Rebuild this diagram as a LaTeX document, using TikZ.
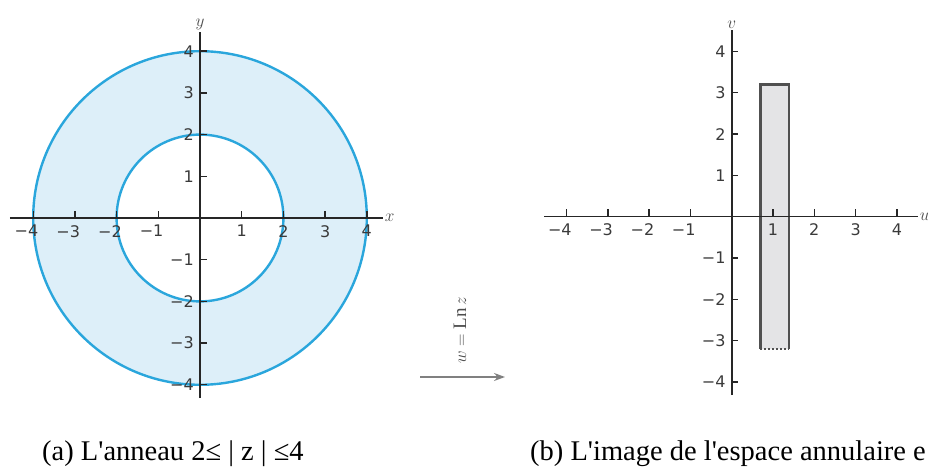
\documentclass[tikz,border=0pt]{standalone}
\usepackage{fontspec}
\setmainfont{Liberation Serif}
\newfontfamily\capfont{Liberation Serif}[Ligatures=ResetAll]
\newfontfamily\ticksf{DejaVu Sans}
\usetikzlibrary{arrows.meta,positioning,calc}
\usepackage{xcolor}

\definecolor{ringblue}{HTML}{2AA6DC}
\definecolor{ringfill}{HTML}{DDEFF9}
\definecolor{stripfill}{HTML}{E4E4E6}
\definecolor{stripline}{HTML}{505050}
\definecolor{numgray}{HTML}{3A3A3A}

\tikzset{
    axisline/.style={line width=1.6pt, black!85},
    tickmark/.style={line width=1.4pt, black!85},
    ticknum/.style={inner sep=0pt, text=numgray, font=\ticksf\fontsize{16}{18}\selectfont},
    axislabel/.style={inner sep=1pt, text=black!70, font=\fontsize{19}{21}\selectfont},
    caption/.style={inner sep=0pt, anchor=base west, font=\capfont\fontsize{28.5}{30}\selectfont}
}

\begin{document}
\begin{tikzpicture}[x=1pt,y=1pt]
    \useasboundingbox (0,0) rectangle (928,468);

    % Plan z : l'anneau
    \begin{scope}[shift={(200,250)}, x=41.7pt, y=41.7pt]
        \fill[ringfill, even odd rule] (0,0) circle (4) (0,0) circle (2);
        \draw[ringblue, line width=2.4pt] (0,0) circle (4);
        \draw[ringblue, line width=2.4pt] (0,0) circle (2);

        % Axes
        \draw[axisline] (-4.56,0) -- (4.39,0) node[axislabel, right] (xlab) {$x$};
        \draw[axisline] (0,-4.32) -- (0,4.46) node[axislabel, above] (ylab) {$y$};

        \foreach \t in {1,...,4} {
            \draw[tickmark] (\t,0) -- ++(0,7pt);
            \draw[tickmark] (-\t,0) -- ++(0,7pt);
            \draw[tickmark] (0,\t) -- ++(7pt,0);
            \draw[tickmark] (0,-\t) -- ++(7pt,0);
            \node[ticknum, anchor=north] (zxp\t) at ($(\t,0)+(0,-7pt)$) {\t};
            \node[ticknum, anchor=north] (zxn\t) at ($(-\t,0)+(0,-7pt)$) {\makebox[0pt][r]{−}\t};
            \node[ticknum, anchor=east] (zyp\t) at ($(0,\t)+(-6pt,0)$) {\t};
            \node[ticknum, anchor=east] (zyn\t) at ($(0,-\t)+(-6pt,0)$) {−\t};
        }
    \end{scope}

    % Transformation
    \coordinate (mapL) at (420,91);
    \coordinate (mapR) at (505,91);
    \draw[gray, line width=1.4pt, -{Stealth[length=11pt,width=8pt]}] (mapL) -- (mapR);
    \node[rotate=90, text=black!70, font=\fontsize{19}{21}\selectfont] (maplab) at (460,138) {$w = \mathrm{Ln}\, z$};

    % Plan w : la bande
    \begin{scope}[shift={(731.7,251.3)}, x=41.3pt, y=41.3pt]
        \fill[stripfill] (0.693,-3.2) rectangle (1.386,3.2);
        \draw[stripline, line width=2.6pt] (0.693,-3.2) -- (0.693,3.2) -- (1.386,3.2) -- (1.386,-3.2);
        \draw[stripline, line width=2pt, dotted] (0.693,-3.2) -- (1.386,-3.2);

        % Axes
        \draw[axisline] (-4.54,0) -- (4.51,0) node[axislabel, right] (ulab) {$u$};
        \draw[axisline] (0,-4.32) -- (0,4.52) node[axislabel, above] (vlab) {$v$};

        \foreach \t in {1,...,4} {
            \draw[tickmark] (\t,0) -- ++(0,8pt);
            \draw[tickmark] (-\t,0) -- ++(0,8pt);
            \draw[tickmark] (0,\t) -- ++(6pt,0);
            \draw[tickmark] (0,-\t) -- ++(6pt,0);
            \node[ticknum, anchor=north] (wxp\t) at ($(\t,0)+(0,-7pt)$) {\t};
            \node[ticknum, anchor=north] (wxn\t) at ($(-\t,0)+(0,-7pt)$) {\makebox[0pt][r]{−}\t};
            \node[ticknum, anchor=east] (wyp\t) at ($(0,\t)+(-6pt,0)$) {\t};
            \node[ticknum, anchor=east] (wyn\t) at ($(0,-\t)+(-6pt,0)$) {−\t};
        }
    \end{scope}

    % Legendes
    \node[caption] (capa) at (42,7) {(a) L'anneau 2≤ | z | ≤4};
    \node[caption] (capb) at (530,7) {(b) L'image de l'espace annulaire e};
\end{tikzpicture}
\end{document}
